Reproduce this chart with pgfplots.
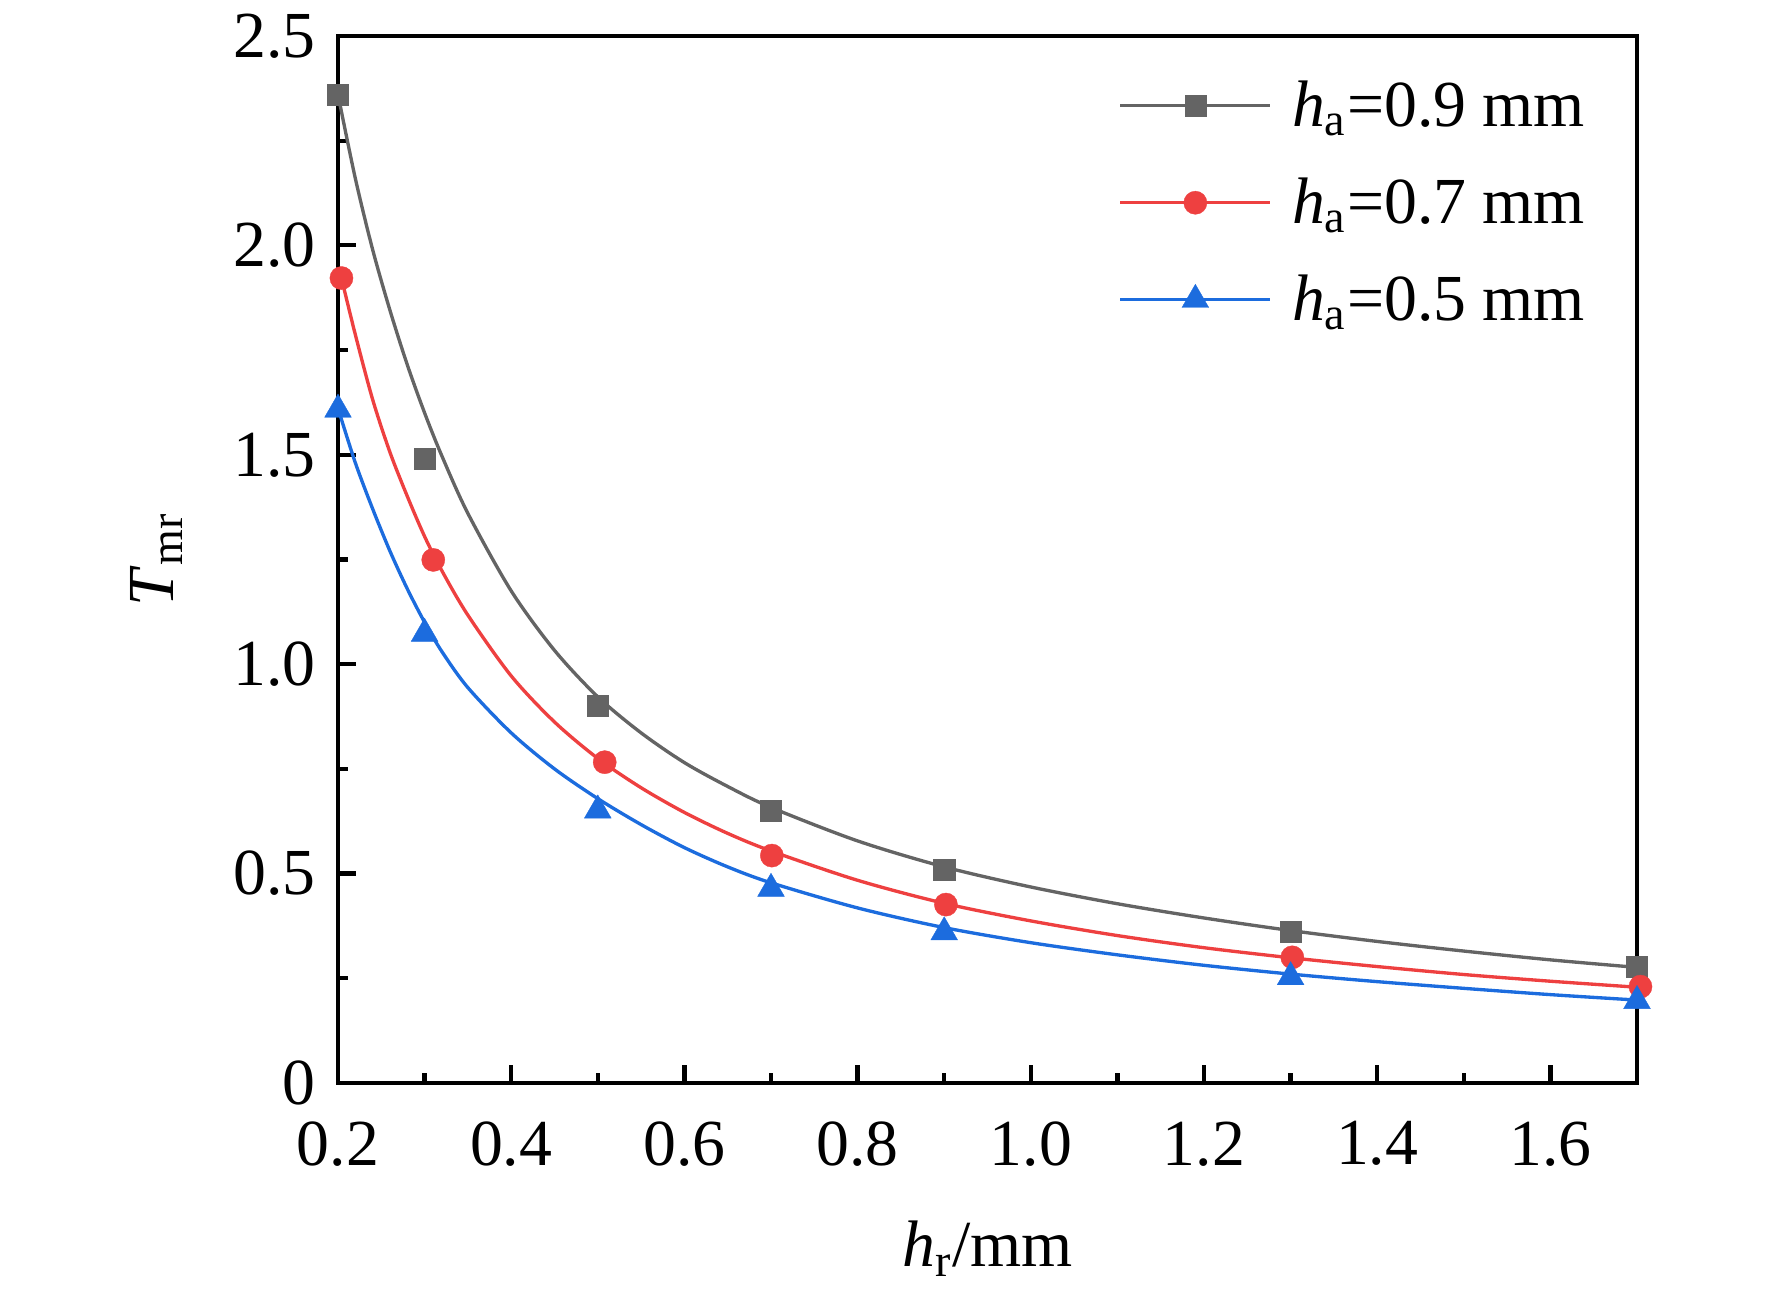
\documentclass[border=0pt]{standalone}
\usepackage{fontspec}
\setmainfont{Liberation Serif}
\usepackage{pgfplots}
\pgfplotsset{compat=1.18}
\definecolor{cgray}{RGB}{100,100,100}
\definecolor{cred}{RGB}{238,64,64}
\definecolor{cblue}{RGB}{28,108,222}
\begin{document}
\fontsize{18.7}{22.4}\selectfont
\begin{tikzpicture}
\path[use as bounding box] (-33.8mm,-21.4mm) rectangle (143.4mm,108.3mm);
\begin{axis}[
  at={(0,0)}, anchor=south west,
  scale only axis, width=129.9mm, height=104.7mm,
  xmin=0.2, xmax=1.7, ymin=0, ymax=2.5,
  clip=false,
  axis line style={line width=1.3pt},
  every tick/.style={black, line width=1.2pt},
  major tick length=1.8mm, minor tick length=0.95mm,
  tick align=inside, xtick pos=bottom, ytick pos=left,
  xtick={0.2,0.4,0.6,0.8,1.0,1.2,1.4,1.6},
  xticklabels={0.2,0.4,0.6,0.8,1.0,1.2,1.4,1.6},
  ytick={0,0.5,1.0,1.5,2.0,2.5},
  yticklabels={0,0.5,1.0,1.5,2.0,2.5},
  minor x tick num=1, minor y tick num=1,
  xticklabel style={yshift=-1.6mm},
  yticklabel style={xshift=0mm},
  xlabel={\textit{h}\textsubscript{r}/mm},
  ylabel={\textit{T}\textsubscript{mr}},
  xlabel style={at={(axis description cs:0.5,-0.1757)}, anchor=base},
  ylabel style={at={(axis description cs:-0.127,0.5)}, anchor=base, rotate=0},
  legend image code/.code={\draw[mark repeat=2,mark phase=2,#1] plot coordinates {(0mm,0mm) (7.5mm,0mm) (15.0mm,0mm)};},
  legend cell align=left,
  legend style={draw=none, fill=none, at={(rel axis cs:0.601,0.9797)}, anchor=north west,
    row sep=0pt, column sep=0pt, inner sep=0pt, outer sep=0pt,
    nodes={inner xsep=0pt, inner ysep=7.8pt, text height=12pt, text depth=0pt, anchor=west},
    /tikz/every odd column/.append style={column sep=2.0mm}},
]
\addlegendimage{cgray, line width=0.95pt, mark=square*, mark size=3pt, mark options={fill=cgray, draw=cgray, line width=0.1pt}}
\addlegendentry{\textit{h}\textsubscript{a}=0.9 mm}
\addlegendimage{cred, line width=0.95pt, mark=*, mark size=3.3pt, mark options={fill=cred, draw=cred, line width=0.1pt}}
\addlegendentry{\textit{h}\textsubscript{a}=0.7 mm}
\addlegendimage{cblue, line width=0.95pt, mark=triangle*, mark size=4.4pt, mark options={fill=cblue, draw=cblue, line width=0.1pt}}
\addlegendentry{\textit{h}\textsubscript{a}=0.5 mm}

% fitted curves
\addplot[cgray, line width=0.95pt, smooth, no markers, forget plot] coordinates {
(0.200,2.360) (0.220,2.160) (0.240,1.990) (0.260,1.845) (0.280,1.715) (0.300,1.600)
(0.320,1.497) (0.350,1.360) (0.400,1.175) (0.450,1.033) (0.500,0.922) (0.550,0.836)
(0.600,0.765) (0.650,0.708) (0.700,0.658) (0.800,0.578) (0.900,0.516) (1.000,0.468)
(1.100,0.428) (1.200,0.394) (1.300,0.364) (1.400,0.338) (1.500,0.315) (1.600,0.294) (1.700,0.276)};
\addplot[cred, line width=0.95pt, smooth, no markers, forget plot] coordinates {
(0.204,1.922) (0.220,1.787) (0.240,1.632) (0.260,1.506) (0.280,1.401) (0.300,1.305)
(0.320,1.223) (0.350,1.117) (0.400,0.972) (0.450,0.862) (0.500,0.775) (0.550,0.705)
(0.600,0.646) (0.650,0.596) (0.700,0.554) (0.800,0.484) (0.900,0.429) (1.000,0.387)
(1.100,0.352) (1.200,0.323) (1.300,0.299) (1.400,0.278) (1.500,0.259) (1.600,0.243) (1.705,0.228)};
\addplot[cblue, line width=0.95pt, smooth, no markers, forget plot] coordinates {
(0.200,1.611) (0.220,1.481) (0.240,1.371) (0.260,1.270) (0.280,1.180) (0.300,1.100)
(0.320,1.030) (0.350,0.944) (0.400,0.836) (0.450,0.750) (0.500,0.679) (0.550,0.617)
(0.600,0.562) (0.650,0.516) (0.700,0.478) (0.800,0.418) (0.900,0.371) (1.000,0.335)
(1.100,0.306) (1.200,0.281) (1.300,0.260) (1.400,0.242) (1.500,0.226) (1.600,0.211) (1.700,0.198)};

% data points
\addplot[only marks, forget plot, mark=square*, mark size=3pt, mark options={fill=cgray, draw=cgray, line width=0.1pt}] coordinates {
(0.2,2.360) (0.3,1.490) (0.5,0.900) (0.7,0.650) (0.9,0.510) (1.3,0.361) (1.7,0.278)};
\addplot[only marks, forget plot, mark=*, mark size=3.3pt, mark options={fill=cred, draw=cred, line width=0.1pt}] coordinates {
(0.204,1.922) (0.31,1.249) (0.508,0.766) (0.701,0.543) (0.902,0.426) (1.302,0.300) (1.704,0.230)};
\addplot[only marks, forget plot, mark=triangle*, mark size=4.4pt, mark options={fill=cblue, draw=cblue, line width=0.1pt}] coordinates {
(0.2,1.608) (0.3,1.073) (0.5,0.651) (0.7,0.464) (0.9,0.360) (1.3,0.253) (1.7,0.196)};
\end{axis}
\end{tikzpicture}
\end{document}
